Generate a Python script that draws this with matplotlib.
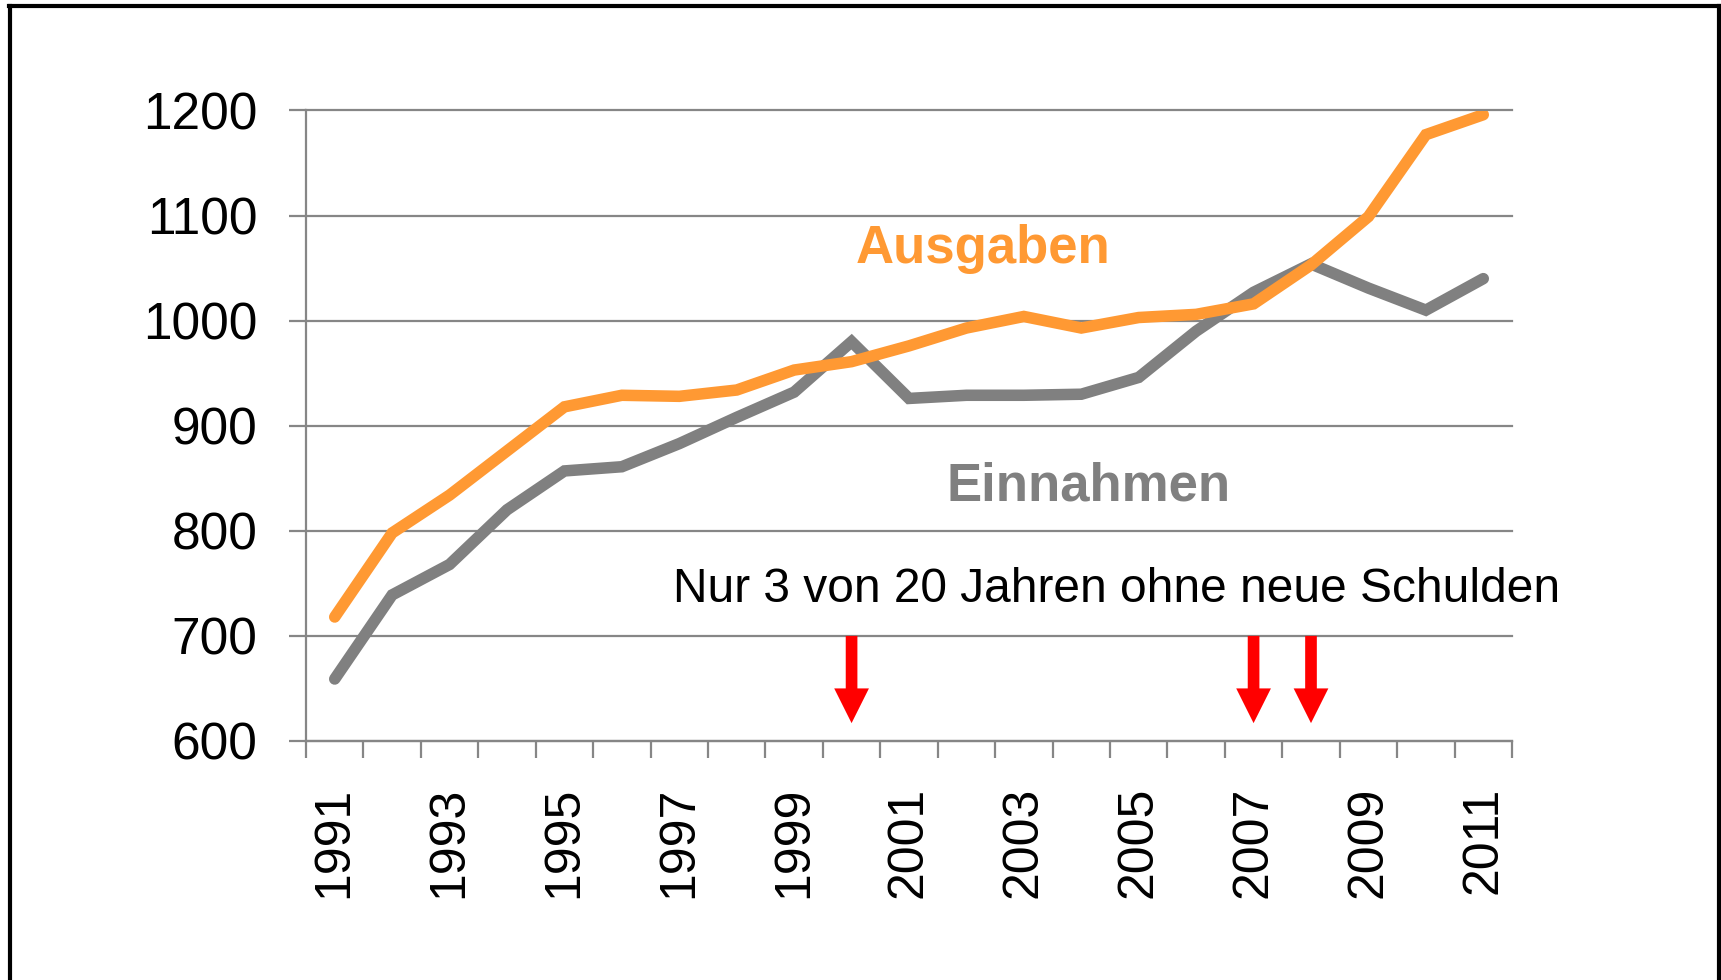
import numpy as np
import matplotlib
matplotlib.use("Agg")
import matplotlib.pyplot as plt
from matplotlib.lines import Line2D

plt.rcParams['font.family'] = ['Liberation Sans', 'DejaVu Sans']

years = list(range(1991, 2012))
ausgaben = [718, 798, 834, 876, 918, 929, 928, 934, 953, 961, 976,
            993, 1004, 993, 1003, 1006, 1016, 1053, 1099, 1177, 1196]
einnahmen = [659, 739, 768, 820, 857, 861, 883, 908, 932, 980, 926,
             929, 929, 930, 946, 990, 1027, 1054, 1031, 1010, 1040]
schuldenfrei = [2000, 2007, 2008]
yticks = [600, 700, 800, 900, 1000, 1100, 1200]

orange = '#FF9933'
grey = '#808080'
axgrey = '#868686'

W, H = 1721, 980
fig = plt.figure(figsize=(W / 100, H / 100), dpi=100)
ax = fig.add_axes([306 / W, 1 - 741 / H, (1512 - 306) / W, (741 - 110.5) / H])

x = np.arange(len(years))
ax.plot(x, einnahmen, color=grey, lw=8.3, solid_capstyle='round', solid_joinstyle='miter', zorder=3)
ax.plot(x, ausgaben, color=orange, lw=8.3, solid_capstyle='round', solid_joinstyle='miter', zorder=4)

ax.set_xlim(-0.5, len(years) - 0.5)
ax.set_ylim(600, 1200)
ax.set_yticks(yticks)
ax.set_yticklabels([str(v) for v in yticks], fontsize=37)
ax.yaxis.grid(True, color=axgrey, lw=1.6)
for gl in ax.get_ygridlines():
    gl.set_clip_on(False)
ax.set_axisbelow(True)

# category boundaries as ticks, labels on every second year
ax.set_xticks(np.arange(len(years) + 1) - 0.5)
ax.set_xticklabels([])
ax.set_xticks(x[::2], minor=True)
ax.set_xticklabels([str(y) for y in years[::2]], minor=True, rotation=90, fontsize=36)
ax.tick_params(axis='x', which='major', length=12, width=1.6, color=axgrey)
ax.tick_params(axis='x', which='minor', length=0, pad=33)
ax.tick_params(axis='y', length=12, width=1.6, color=axgrey, pad=23)

for s in ['top', 'right']:
    ax.spines[s].set_visible(False)
for s in ['left', 'bottom']:
    ax.spines[s].set_color(axgrey)
    ax.spines[s].set_linewidth(1.6)

ax.text(11.29, 1068, 'Ausgaben', color=orange, fontsize=38,
        fontweight='bold', ha='center', va='center')
ax.text(13.13, 842, 'Einnahmen', color=grey, fontsize=38,
        fontweight='bold', ha='center', va='center')
ax.text(13.62, 744, 'Nur 3 von 20 Jahren ohne neue Schulden',
        color='black', fontsize=34.5, ha='center', va='center')

for yr in schuldenfrei:
    i = years.index(yr)
    ax.annotate('', xy=(i, 617), xytext=(i, 700),
                arrowprops=dict(facecolor='#FF0000', edgecolor='none', width=8.4,
                                headwidth=25, headlength=25, shrink=0),
                annotation_clip=False, zorder=5)

# outer frame (open at the bottom)
fx = lambda px: px / W
fy = lambda py: 1 - py / H
fig.add_artist(Line2D([fx(10), fx(10)], [fy(H), fy(6.5)], color='black', lw=3))
fig.add_artist(Line2D([fx(8.5), fx(1719.5)], [fy(6.5), fy(6.5)], color='black', lw=3))
fig.add_artist(Line2D([fx(1718.5), fx(1718.5)], [fy(6.5), fy(H)], color='black', lw=3))

fig.savefig('out.png', dpi=100)
